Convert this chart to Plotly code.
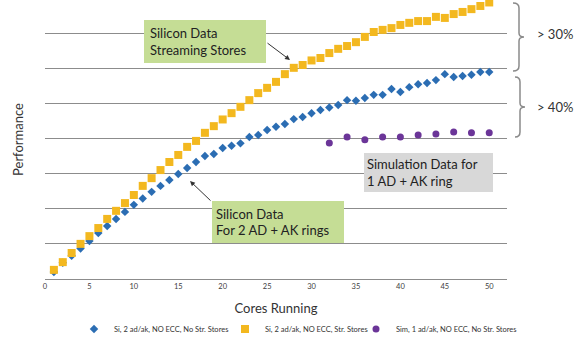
import plotly.graph_objects as go

# ---------------- data ----------------
cores = list(range(1, 51))
si_no_str = [0.20, 0.46, 0.66, 0.87, 1.08, 1.31, 1.51, 1.71, 1.91, 2.11,
             2.29, 2.48, 2.65, 2.82, 2.99, 3.16, 3.33, 3.50, 3.56, 3.73,
             3.79, 3.86, 4.04, 4.10, 4.24, 4.33, 4.41, 4.55, 4.61, 4.72,
             4.81, 4.88, 4.95, 5.09, 5.07, 5.15, 5.24, 5.24, 5.41, 5.32,
             5.46, 5.54, 5.58, 5.66, 5.83, 5.75, 5.78, 5.81, 5.89, 5.89]
si_str = [0.26, 0.48, 0.74, 1.00, 1.22, 1.45, 1.71, 1.94, 2.16, 2.39,
          2.65, 2.87, 3.10, 3.33, 3.53, 3.76, 3.93, 4.16, 4.35, 4.54,
          4.72, 4.90, 5.09, 5.29, 5.44, 5.61, 5.83, 6.01, 6.09, 6.22,
          6.29, 6.43, 6.55, 6.63, 6.74, 6.89, 7.03, 7.09, 7.14, 7.23,
          7.29, 7.34, 7.34, 7.46, 7.43, 7.54, 7.60, 7.68, 7.77, 7.87]
sim_cores = [32, 34, 36, 38, 40, 42, 44, 46, 48, 50]
sim_vals = [3.87, 4.04, 3.96, 4.04, 4.04, 4.10, 4.13, 4.18, 4.16, 4.16]

series_names = ["Si, 2 ad/ak, NO ECC, No Str. Stores",
                "Si, 2 ad/ak, NO ECC, Str. Stores",
                "Sim, 1 ad/ak, NO ECC, No Str. Stores"]
x_ticks = [0, 5, 10, 15, 20, 25, 30, 35, 40, 45, 50]

# ---------------- layout geometry (pixels) ----------------
W, H = 580, 337
L, R, T, B = 45, 73, 0, 58
PW, PH = W - L - R, H - T - B
XMAX = 52
YMAX = 7.94


def xp(px):
    return (px - L) / PW


def yp(py):
    return (T + PH - py) / PH


BLUE = "#2B6DB3"
GOLD = "#F3B81F"
PURPLE = "#6B3598"
GREEN = "#C5DD95"
GREY_BOX = "#D8D8D8"
GRID = "#8C8C8C"
TXT = "#333333"

fig = go.Figure()
fig.add_trace(go.Scatter(x=cores, y=si_no_str, mode="markers", name=series_names[0],
                         legend="legend",
                         marker=dict(symbol="diamond", size=6.5, color=BLUE), cliponaxis=False))
fig.add_trace(go.Scatter(x=cores, y=si_str, mode="markers", name=series_names[1],
                         legend="legend2",
                         marker=dict(symbol="square", size=8, color=GOLD), cliponaxis=False))
fig.add_trace(go.Scatter(x=sim_cores, y=sim_vals, mode="markers", name=series_names[2],
                         legend="legend3",
                         marker=dict(symbol="circle", size=7, color=PURPLE), cliponaxis=False))

annotations = []
BOXFONT = dict(family="Lato", size=13, color="#222222")


def box(text, x0, y0, x1, y1, pad, color):
    annotations.append(dict(
        text=text, xref="paper", yref="paper", x=xp(x0), y=yp(y0),
        xanchor="left", yanchor="top", showarrow=False, align="left",
        width=(x1 - x0) - 2 * pad, height=(y1 - y0) - 2 * pad,
        borderpad=pad, borderwidth=0, bgcolor=color, font=BOXFONT))


def arrow(x_from, y_from, x_to, y_to):
    annotations.append(dict(
        text="", xref="paper", yref="paper", x=xp(x_to), y=yp(y_to),
        ax=x_from - x_to, ay=y_from - y_to, showarrow=True,
        arrowhead=2, arrowsize=1, arrowwidth=1, arrowcolor="#333333", standoff=0))


box("Silicon Data<br>Streaming Stores", 144, 20, 266, 63, 6, GREEN)
box("Silicon Data<br>For 2 AD + AK rings", 212, 201, 344, 243, 4, GREEN)
box("Simulation Data for<br>1 AD + AK ring", 364, 153, 493, 192, 3, GREY_BOX)
arrow(266, 42, 290, 60)
arrow(212, 202, 190, 181)

for label, py in [("&gt; 30%", 34), ("&gt; 40%", 107)]:
    annotations.append(dict(text=label, xref="paper", yref="paper", x=xp(535), y=yp(py),
                            xanchor="left", yanchor="middle", showarrow=False,
                            font=dict(family="Lato", size=13, color=TXT)))


def brace(top, bottom, xv, xh, tip):
    mid = (top + bottom) / 2
    pts = [
        f"M {xp(xh)},{yp(top)}",
        f"Q {xp(xv)},{yp(top)} {xp(xv)},{yp(top + 5)}",
        f"L {xp(xv)},{yp(mid - 4)}",
        f"Q {xp(xv)},{yp(mid)} {xp(tip)},{yp(mid)}",
        f"Q {xp(xv)},{yp(mid)} {xp(xv)},{yp(mid + 4)}",
        f"L {xp(xv)},{yp(bottom - 5)}",
        f"Q {xp(xv)},{yp(bottom)} {xp(xh)},{yp(bottom)}",
    ]
    return dict(type="path", xref="paper", yref="paper", path=" ".join(pts),
                line=dict(color="#8A8A8A", width=1.5))


shapes = [brace(3, 71, 519, 513, 524), brace(77, 137, 520, 515, 525)]


def legend_at(px_left):
    return dict(orientation="h", x=xp(px_left), y=yp(329), xanchor="left", yanchor="middle",
                font=dict(family="Lato", size=7.5, color=TXT), itemwidth=30,
                bgcolor="rgba(0,0,0,0)", borderwidth=0)


fig.update_layout(
    width=W, height=H, autosize=False,
    margin=dict(l=L, r=R, t=T, b=B, pad=0, autoexpand=False),
    paper_bgcolor="white", plot_bgcolor="white",
    font=dict(family="Lato", color=TXT),
    showlegend=True,
    legend=legend_at(74), legend2=legend_at(225), legend3=legend_at(356),
    xaxis=dict(range=[0, XMAX], tickvals=x_ticks, showgrid=False, zeroline=False,
               showline=True, linecolor=GRID, linewidth=1, ticks="", automargin=False,
               tickfont=dict(family="Lato", size=7.5, color="#404040"),
               title=dict(text="Cores Running", font=dict(family="Lato", size=13, color=TXT),
                          standoff=13)),
    yaxis=dict(range=[0, YMAX], dtick=1, tick0=0, showgrid=True, gridcolor=GRID, gridwidth=1,
               zeroline=False, showticklabels=False, showline=False, ticks="", automargin=False,
               title=dict(text="Performance", font=dict(family="Lato", size=13, color=TXT),
                          standoff=17)),
    annotations=annotations, shapes=shapes,
)

fig.write_html("out.html")
